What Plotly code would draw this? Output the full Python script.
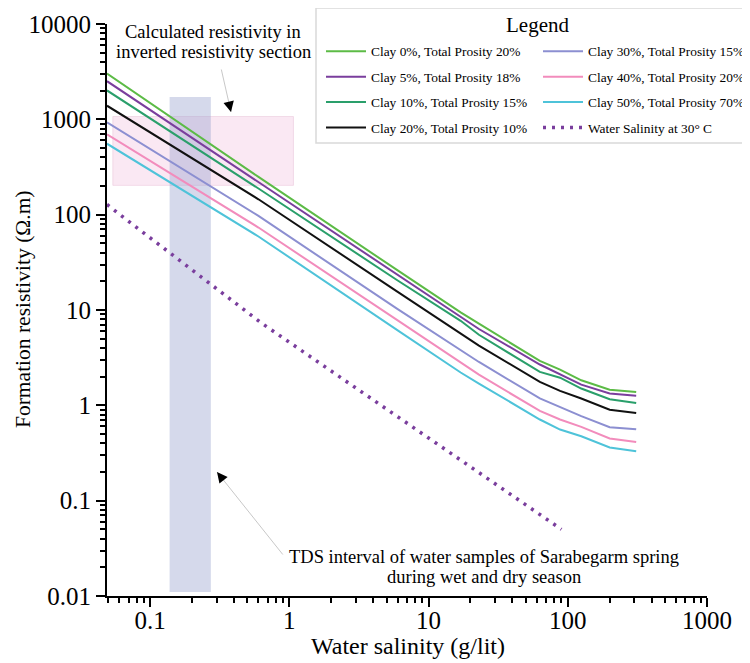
import plotly.graph_objects as go
import math

# ---- data ----
salinity = [0.049, 0.6, 6, 17, 23, 63, 88, 125, 200, 310]
clay_names = [
    "Clay 0%, Total Prosity 20%",
    "Clay 5%, Total Prosity 18%",
    "Clay 10%, Total Prosity 15%",
    "Clay 20%, Total Prosity 10%",
    "Clay 30%, Total Prosity 15%",
    "Clay 40%, Total Prosity 20%",
    "Clay 50%, Total Prosity 70%",
]
R_clay0 = [3027, 249, 26.0, 9.43, 7.19, 2.92, 2.37, 1.83, 1.46, 1.38]
R_clay5 = [2512, 220, 23.1, 8.5, 6.32, 2.68, 2.12, 1.65, 1.33, 1.26]
R_clay10 = [2009, 188, 20.4, 7.7, 5.5, 2.24, 1.95, 1.50, 1.16, 1.06]
R_clay20 = [1390, 145, 15.5, 5.68, 4.23, 1.76, 1.42, 1.18, 0.90, 0.83]
R_clay30 = [929, 97, 10.2, 3.74, 2.85, 1.18, 0.95, 0.77, 0.59, 0.56]
R_clay40 = [695, 73.3, 7.78, 2.82, 2.10, 0.873, 0.71, 0.594, 0.449, 0.413]
R_clay50 = [555, 59, 6.12, 2.21, 1.69, 0.71, 0.557, 0.474, 0.361, 0.33]
clay_values = [R_clay0, R_clay5, R_clay10, R_clay20, R_clay30, R_clay40, R_clay50]
clay_colors = ["#5cbb46", "#7a3e9d", "#2a9f6b", "#111111", "#8c8fd1", "#f28cbc", "#4ec3d9"]

water_name = "Water Salinity at 30° C"
water_salinity = [0.049, 0.066, 0.63, 6.5, 24, 90]
water_R = [128, 91, 7.3, 0.70, 0.193, 0.050]

# shaded intervals
inv_sal = [0.054, 1.07]      # calculated resistivity box (x extent)
inv_res = [203, 1070]        # (y extent)
tds_sal = [0.138, 0.273]     # TDS interval
tds_res = [0.011, 1710]

x_ticks = [0.1, 1, 10, 100, 1000]
x_ticklabels = ["0.1", "1", "10", "100", "1000"]
y_ticks = [0.01, 0.1, 1, 10, 100, 1000, 10000]
y_ticklabels = ["0.01", "0.1", "1", "10", "100", "1000", "10000"]

FONT = "Liberation Serif"
OFF = 8                      # page body margin
W, H = 750, 663 - OFF
L, R, T, B = 99, 51, 16, 67

fig = go.Figure()

def box(xr, yr, fillc, linec):
    fig.add_trace(go.Scatter(
        x=[xr[0], xr[1], xr[1], xr[0], xr[0]],
        y=[yr[0], yr[0], yr[1], yr[1], yr[0]],
        mode="lines", fill="toself", fillcolor=fillc,
        line=dict(color=linec, width=1), showlegend=False, hoverinfo="skip"))

box(inv_sal, inv_res, "rgba(240,180,215,0.30)", "rgba(235,200,220,0.6)")
box(tds_sal, tds_res, "rgba(150,160,205,0.40)", "rgba(150,160,205,0.0)")

for i, (name, vals, col) in enumerate(zip(clay_names, clay_values, clay_colors)):
    fig.add_trace(go.Scatter(
        x=salinity, y=vals, mode="lines", name=name, legendgroup=name,
        line=dict(color=col, width=2),
        legend="legend" if i < 4 else "legend2"))

fig.add_trace(go.Scatter(
    x=water_salinity, y=water_R, mode="lines", name=water_name, legendgroup=water_name,
    line=dict(color="#7a3e9d", width=3.5, dash="3px,6px"),
    legend="legend2"))

axis_common = dict(
    type="log", showgrid=False, zeroline=False, showline=True, automargin=False,
    linecolor="black", linewidth=2, ticks="outside", ticklen=9, tickwidth=2,
    tickcolor="black", tickfont=dict(family=FONT, size=25, color="black"),
    minor=dict(ticks="outside", ticklen=5, tickwidth=1.5, tickcolor="black", dtick="D1", showgrid=False),
)

fig.update_xaxes(range=[math.log10(0.049), 3], tickvals=x_ticks, ticktext=x_ticklabels,
                 ticklabelstandoff=-8, **axis_common)
fig.update_yaxes(range=[-2, 4], tickvals=y_ticks, ticktext=y_ticklabels, **axis_common)

def px2paper_x(px):
    return (px - OFF - L) / (W - L - R)

def py2paper_y(py):
    return (H - B - (py - OFF)) / (H - T - B)

legend_common = dict(
    bgcolor="rgba(0,0,0,0)", borderwidth=0, xanchor="left", yanchor="top",
    font=dict(family=FONT, size=13.4, color="black"), itemwidth=40,
    traceorder="grouped", tracegroupgap=5,
)
fig.update_layout(
    width=W, height=H, margin=dict(l=L, r=R, t=T, b=B, autoexpand=False),
    paper_bgcolor="white", plot_bgcolor="white",
    legend=dict(x=px2paper_x(321), y=py2paper_y(36), **legend_common),
    legend2=dict(x=px2paper_x(538), y=py2paper_y(36), **legend_common),
    shapes=[dict(type="rect", xref="paper", yref="paper",
                 x0=px2paper_x(316), x1=px2paper_x(770), y0=py2paper_y(143), y1=py2paper_y(8),
                 line=dict(color="#d9d9d9", width=1.5), fillcolor="white", layer="above")],
)

# text annotations
ann_font = dict(family=FONT, size=18.5, color="black")
def label(text, px, py, font, angle=0):
    fig.add_annotation(xref="paper", yref="paper", x=px2paper_x(px), y=py2paper_y(py),
                       text=text, showarrow=False, font=font, textangle=angle,
                       xanchor="center", yanchor="middle")

label("Legend", 537, 25, dict(family=FONT, size=21, color="black"))
label("Calculated resistivity in", 213, 32, ann_font)
label("inverted resistivity section", 213, 52, ann_font)
label("TDS interval of water samples of Sarabegarm spring", 484, 557, ann_font)
label("during wet and dry season", 484, 577, ann_font)
label("Water salinity (g/lit)", 408, 646, dict(family=FONT, size=24, color="black"))
label("Formation resistivity (Ω.m)", 23, 309, dict(family=FONT, size=21.5, color="black"), angle=-90)

def arrow(head, tail):
    hx, hy = head
    tx, ty = tail
    # grey shaft
    fig.add_annotation(xref="paper", yref="paper", x=px2paper_x(hx), y=py2paper_y(hy), text="",
                       showarrow=True, ax=tx - hx, ay=ty - hy, arrowhead=0, arrowwidth=1,
                       arrowcolor="#c8c8c8")
    # black head
    d = math.hypot(tx - hx, ty - hy)
    ux, uy = (tx - hx) / d, (ty - hy) / d
    fig.add_annotation(xref="paper", yref="paper", x=px2paper_x(hx), y=py2paper_y(hy), text="",
                       showarrow=True, ax=ux * 9, ay=uy * 9, arrowhead=2, arrowsize=1.4, arrowwidth=1.5,
                       arrowcolor="black")

arrow((231, 112), (221, 68))
arrow((217, 472), (284, 556))

fig.write_html("out.html")
